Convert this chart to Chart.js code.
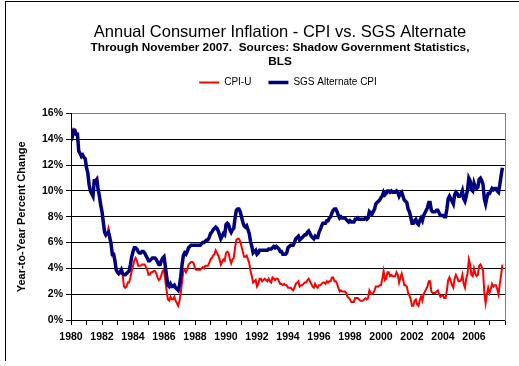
<!DOCTYPE html>
<html lang="en">
<head>
  <meta charset="UTF-8" />
  <title>Annual Consumer Inflation - CPI vs. SGS Alternate</title>
  <script src="https://cdn.jsdelivr.net/npm/chart.js"></script>
  <style>
    html, body { margin: 0; background: #fff; overflow: hidden; }
    #frame { position: absolute; left: 5px; top: 1px; width: 520px; height: 359px;
             border-left: 1px solid #000; border-top: 1px solid #000; }
    canvas { position: absolute; left: 0; top: 0; }
  </style>
</head>
<body>
  <div id="frame"></div>
  <canvas id="inflationChart" width="560" height="366"></canvas>

  <script>
    // monthly year-to-year % change, Jan 1980 .. Nov 2007
    const startYear = 1980;

    const cpiU = [
      13.9,14.2,14.8,14.7,14.4,14.4,13.1,12.9,12.6,12.8,12.6,12.5, // 1980
      11.8,11.4,10.5,10.0,9.8,9.6,10.8,10.8,11.0,10.1,9.6,8.9,     // 1981
      8.4,7.6,6.8,6.5,6.7,7.1,6.4,5.9,5.0,5.1,4.6,3.8,             // 1982
      3.7,3.5,3.6,3.9,3.5,2.6,2.5,2.6,2.9,2.9,3.3,3.8,             // 1983
      4.2,4.6,4.8,4.6,4.2,4.2,4.2,4.3,4.3,4.3,4.1,3.9,             // 1984
      3.5,3.5,3.7,3.7,3.8,3.8,3.6,3.3,3.1,3.2,3.5,3.8,             // 1985
      3.9,3.1,2.3,1.6,1.5,1.8,1.6,1.6,1.8,1.5,1.3,1.1,             // 1986
      1.5,2.1,3.0,3.8,3.9,3.7,3.9,4.3,4.4,4.5,4.5,4.4,             // 1987
      4.0,3.9,3.9,3.9,3.9,4.0,4.1,4.0,4.2,4.2,4.2,4.4,             // 1988
      4.7,4.8,5.0,5.1,5.4,5.2,5.0,4.7,4.3,4.5,4.7,4.6,             // 1989
      5.2,5.3,5.2,4.7,4.4,4.7,4.8,5.6,6.2,6.3,6.3,6.1,             // 1990
      5.7,5.3,4.9,4.9,5.0,4.7,4.4,3.8,3.4,2.9,3.0,3.1,             // 1991
      2.6,2.8,3.2,3.2,3.0,3.1,3.2,3.1,3.0,3.2,3.0,2.9,             // 1992
      3.3,3.2,3.1,3.2,3.2,3.0,2.8,2.8,2.7,2.8,2.7,2.7,             // 1993
      2.5,2.5,2.5,2.4,2.3,2.5,2.8,2.9,3.0,2.6,2.7,2.7,             // 1994
      2.8,2.9,2.9,3.1,3.2,3.0,2.8,2.6,2.5,2.8,2.6,2.5,             // 1995
      2.7,2.7,2.8,2.9,2.9,2.8,3.0,2.9,3.0,3.0,3.3,3.3,             // 1996
      3.0,3.0,2.8,2.5,2.2,2.3,2.2,2.2,2.2,2.1,1.8,1.7,             // 1997
      1.6,1.4,1.4,1.4,1.7,1.7,1.7,1.6,1.5,1.5,1.5,1.6,             // 1998
      1.7,1.6,1.7,2.3,2.1,2.0,2.1,2.3,2.6,2.6,2.6,2.7,             // 1999
      2.7,3.2,3.8,3.1,3.2,3.7,3.7,3.4,3.5,3.4,3.4,3.4,             // 2000
      3.7,3.5,2.9,3.3,3.6,3.2,2.7,2.7,2.6,2.1,1.9,1.6,             // 2001
      1.1,1.1,1.5,1.6,1.2,1.1,1.5,1.8,1.5,2.0,2.2,2.4,             // 2002
      2.6,3.0,3.0,2.2,2.1,2.1,2.1,2.2,2.3,2.0,1.8,1.9,             // 2003
      1.9,1.7,1.7,2.3,3.1,3.3,3.0,2.7,2.5,3.2,3.5,3.3,             // 2004
      3.0,3.0,3.1,3.5,2.8,2.5,3.2,3.6,4.7,4.3,3.5,3.4,             // 2005
      4.0,3.6,3.4,3.5,4.2,4.3,4.1,3.8,2.1,1.3,2.0,2.5,             // 2006
      2.1,2.4,2.8,2.6,2.7,2.7,2.4,2.0,2.8,3.5,4.3                  // 2007
    ];

    const sgsAlt = [
      13.9,14.2,14.7,14.7,14.4,14.4,13.1,12.9,12.7,12.8,12.6,12.5, // 1980
      11.8,11.4,10.5,10.0,9.8,9.6,10.8,10.8,10.9,10.1,9.6,8.9,     // 1981
      8.4,7.6,6.8,6.6,6.7,6.8,6.4,5.9,5.1,5.1,4.6,3.9,             // 1982
      3.7,3.6,3.7,3.9,3.6,3.5,3.5,3.6,3.7,3.8,4.3,4.9,             // 1983
      5.3,5.6,5.6,5.5,5.3,5.2,5.2,5.3,5.3,5.2,5.0,4.8,             // 1984
      4.6,4.6,4.7,4.8,4.8,4.8,4.7,4.5,4.3,4.3,4.6,4.8,             // 1985
      4.9,4.2,3.4,2.7,2.6,2.8,2.6,2.6,2.7,2.5,2.4,2.3,             // 1986
      2.7,3.4,4.3,5.0,5.2,5.1,5.3,5.6,5.7,5.8,5.8,5.8,             // 1987
      5.8,5.8,5.8,5.8,5.8,5.9,6.0,6.0,6.1,6.2,6.2,6.4,             // 1988
      6.7,6.8,7.0,7.1,7.2,7.1,6.9,6.6,6.3,6.5,6.7,6.6,             // 1989
      7.4,7.5,7.4,7.0,6.8,7.0,7.1,7.9,8.5,8.6,8.6,8.4,             // 1990
      8.0,7.6,7.3,7.2,7.3,7.0,6.7,6.1,5.7,5.2,5.3,5.4,             // 1991
      5.1,5.2,5.4,5.4,5.4,5.4,5.4,5.4,5.4,5.5,5.5,5.5,             // 1992
      5.6,5.7,5.6,5.7,5.6,5.5,5.3,5.3,5.1,5.1,5.1,5.2,             // 1993
      5.6,5.7,5.8,5.8,5.8,6.0,6.3,6.4,6.5,6.2,6.3,6.4,             // 1994
      6.5,6.6,6.6,6.8,6.9,6.7,6.5,6.4,6.3,6.5,6.4,6.4,             // 1995
      6.8,7.0,7.3,7.5,7.5,7.5,7.7,7.7,7.9,8.0,8.3,8.5,             // 1996
      8.6,8.6,8.4,8.1,7.9,8.0,7.9,7.9,7.9,7.8,7.7,7.6,             // 1997
      7.7,7.6,7.6,7.6,7.8,7.8,7.9,7.8,7.8,7.8,7.8,7.8,             // 1998
      7.9,7.8,7.9,8.4,8.3,8.2,8.4,8.6,9.0,9.1,9.2,9.3,             // 1999
      9.5,9.6,9.9,9.7,9.8,10.0,10.0,9.9,10.0,9.9,9.9,9.9,          // 2000
      10.0,9.9,9.6,9.8,9.9,9.6,9.3,9.2,9.1,8.6,8.4,8.0,            // 2001
      7.5,7.5,7.7,7.8,7.5,7.4,7.7,7.9,7.7,8.1,8.3,8.5,             // 2002
      8.7,9.1,9.1,8.5,8.4,8.4,8.4,8.5,8.5,8.3,8.1,8.1,             // 2003
      8.1,8.0,8.0,8.6,9.4,9.6,9.4,9.2,9.0,9.7,9.9,9.8,             // 2004
      9.6,9.6,9.7,10.0,9.4,9.2,9.6,10.1,11.0,10.8,10.1,10.0,       // 2005
      10.6,10.3,10.2,10.3,10.9,11.0,10.8,10.5,9.4,9.0,9.5,9.8,     // 2006
      9.8,10.0,10.2,10.1,10.2,10.2,10.0,9.9,10.5,11.2,11.8         // 2007
    ];

    const yearLabels = [1980, 1982, 1984, 1986, 1988, 1990, 1992, 1994, 1996, 1998, 2000, 2002, 2004, 2006];

    const toPoints = arr => arr.map((v, i) => ({ x: startYear + i / 12, y: v }));

    const ctx = document.getElementById("inflationChart").getContext("2d");
    new Chart(ctx, {
      type: "line",
      data: {
        datasets: [
          { label: "CPI-U", data: toPoints(cpiU), borderColor: "#ff0000", backgroundColor: "#ff0000",
            borderWidth: 2, pointRadius: 0, tension: 0, order: 1 },
          { label: "SGS Alternate CPI", data: toPoints(sgsAlt), borderColor: "#000080", backgroundColor: "#000080",
            borderWidth: 3.5, pointRadius: 0, tension: 0, order: 0 }
        ]
      },
      options: {
        responsive: false,
        animation: false,
        layout: { padding: 0 },
        plugins: {
          title: {
            display: true,
            text: "Annual Consumer Inflation - CPI vs. SGS Alternate",
            color: "#000",
            font: { family: "Arial", size: 16.5, weight: "normal", lineHeight: 1.0 },
            padding: { top: 24, bottom: 0 }
          },
          subtitle: {
            display: true,
            text: ["Through November 2007.  Sources: Shadow Government Statistics,", "BLS"],
            color: "#000",
            font: { family: "Arial", size: 11.8, weight: "bold", lineHeight: 1.19 },
            padding: { top: 0, bottom: -8 }
          },
          legend: {
            position: "top",
            fullSize: false,
            labels: {
              usePointStyle: true,
              pointStyle: "line",
              pointStyleWidth: 20,
              boxHeight: 10,
              padding: 17,
              color: "#000",
              font: { family: "Arial", size: 10 },
              sort: (a, b) => a.datasetIndex - b.datasetIndex
            }
          },
          tooltip: { enabled: false }
        },
        scales: {
          x: {
            type: "linear",
            min: 1980,
            max: 2008,
            afterFit: s => { s.height = 46; },
            border: { display: true, color: "#000" },
            grid: { drawOnChartArea: false, drawTicks: true, tickLength: 5, color: "#000" },
            ticks: {
              stepSize: 1,
              autoSkip: false,
              maxRotation: 0,
              padding: 6,
              color: "#000",
              font: { family: "Arial", size: 10.5, weight: "bold" },
              callback: v => yearLabels.includes(v) ? String(v) : ""
            }
          },
          // spacer between legend and plot area
          xTop: {
            type: "linear",
            position: "top",
            afterFit: s => { s.height = 16; },
            border: { display: false },
            grid: { display: false },
            ticks: { display: false }
          },
          y: {
            min: 0,
            max: 16,
            afterFit: s => { s.width = 71; },
            border: { display: true, color: "#000" },
            grid: {
              color: c => c.tick.value === 16 ? "#808080" : "#000",
              tickColor: "#000",
              tickLength: 5
            },
            ticks: {
              stepSize: 2,
              padding: 3,
              color: "#000",
              font: { family: "Arial", size: 10.5, weight: "bold" },
              callback: v => v + "%"
            },
            title: {
              display: true,
              text: "Year-to-Year Percent Change",
              color: "#000",
              font: { family: "Arial", size: 11, weight: "bold" },
              padding: { top: 15, bottom: 0 }
            }
          },
          // right-hand plot border; its width also centres the titles like the original
          y2: {
            position: "right",
            min: 0,
            max: 16,
            afterFit: s => { s.width = 55; },
            border: { display: true, color: "#808080" },
            grid: { drawOnChartArea: false, drawTicks: false },
            ticks: { display: false }
          }
        }
      }
    });
  </script>
</body>
</html>
